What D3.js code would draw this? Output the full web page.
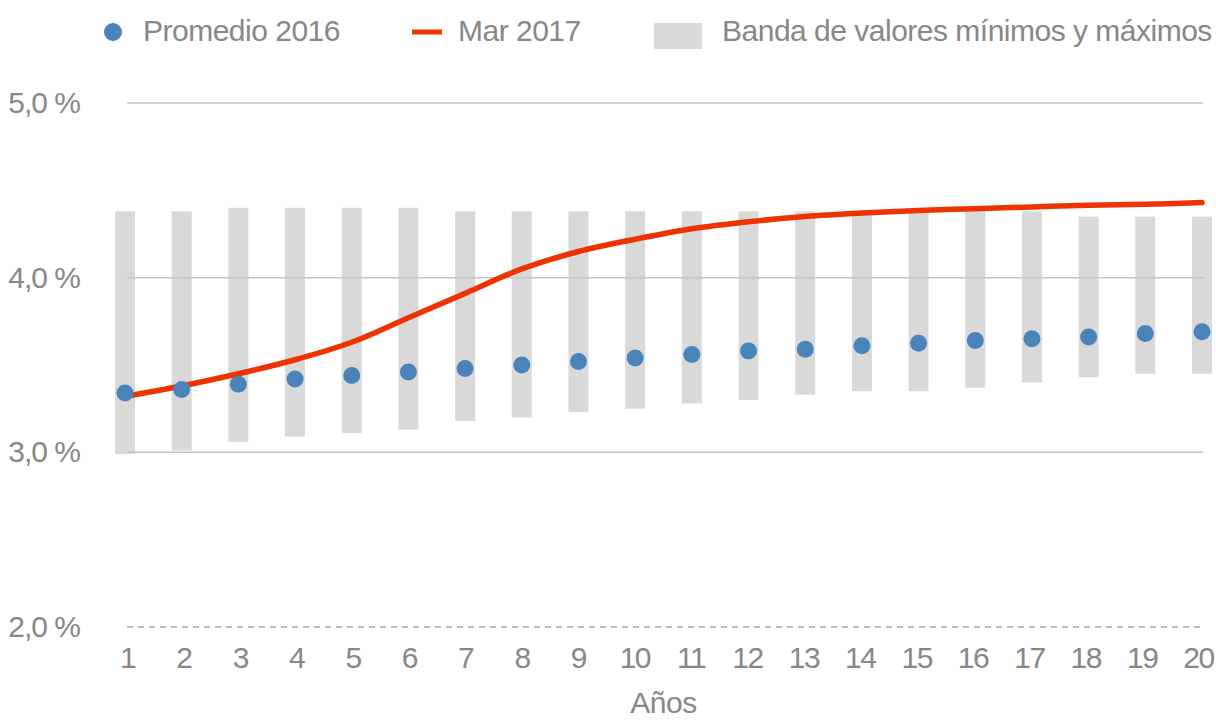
<!DOCTYPE html>
<html>
<head>
<meta charset="utf-8">
<script src="https://cdn.jsdelivr.net/npm/d3@7"></script>
<style>
  body { margin: 0; background: #fff; }
  svg text { font-family: "Liberation Sans", Arial, sans-serif; font-size: 30px; fill: #878787; letter-spacing: -0.5px; }
  .y-axis text { letter-spacing: -1px; }
  .x-axis text { letter-spacing: -1.5px; }
</style>
</head>
<body>
<div id="chart"></div>
<script>
// Data
const years = [1, 2, 3, 4, 5, 6, 7, 8, 9, 10, 11, 12, 13, 14, 15, 16, 17, 18, 19, 20];
const bandMax = [4.38, 4.38, 4.40, 4.40, 4.40, 4.40, 4.38, 4.38, 4.38, 4.38, 4.38, 4.38, 4.38, 4.37, 4.38, 4.38, 4.38, 4.35, 4.35, 4.35];
const bandMin = [2.99, 3.01, 3.06, 3.09, 3.11, 3.13, 3.18, 3.20, 3.23, 3.25, 3.28, 3.30, 3.33, 3.35, 3.35, 3.37, 3.40, 3.43, 3.45, 3.45];
const promedio2016 = [3.34, 3.36, 3.39, 3.42, 3.44, 3.46, 3.48, 3.50, 3.52, 3.54, 3.56, 3.58, 3.59, 3.61, 3.625, 3.64, 3.65, 3.66, 3.68, 3.69];
const mar2017 = [3.32, 3.38, 3.45, 3.53, 3.63, 3.77, 3.91, 4.05, 4.15, 4.22, 4.28, 4.32, 4.35, 4.37, 4.385, 4.395, 4.405, 4.415, 4.42, 4.43];
const yTicks = [2, 3, 4, 5];
const legendLabels = ["Promedio 2016", "Mar 2017", "Banda de valores mínimos y máximos"];

const width = 1216, height = 722;
const blue = "#4a82ba", red = "#ee3300", bandColor = "#d9d9d9";

const svg = d3.select("#chart").append("svg")
    .attr("width", width)
    .attr("height", height);

// Scales
const x = d3.scalePoint().domain(years).range([125, 1202]);
// category labels are spread a little tighter than the marks
const xLabel = d3.scalePoint().domain(years).range([127, 1198]);
const y = d3.scaleLinear().domain([2, 5]).range([627, 103]);
const gridX0 = 127, gridX1 = 1203;
const barWidth = 20;

const rows = years.map((yr, i) => ({
    year: yr, min: bandMin[i], max: bandMax[i], prom: promedio2016[i], mar: mar2017[i]
}));

// Min/max bands
svg.append("g")
    .selectAll("rect")
    .data(rows)
    .join("rect")
    .attr("x", d => x(d.year) - barWidth / 2)
    .attr("y", d => y(d.max))
    .attr("width", barWidth)
    .attr("height", d => y(d.min) - y(d.max))
    .attr("fill", bandColor);

// Gridlines (2,0 % is dashed)
svg.append("g")
    .selectAll("line")
    .data(yTicks)
    .join("line")
    .attr("x1", gridX0)
    .attr("x2", gridX1)
    .attr("y1", d => y(d))
    .attr("y2", d => y(d))
    .attr("stroke", d => d === 2 ? "#a6a6a6" : "#c4c4c4")
    .attr("stroke-width", 1.5)
    .attr("stroke-dasharray", d => d === 2 ? "6,5" : null);

// Mar 2017 line
const line = d3.line()
    .x(d => x(d.year))
    .y(d => y(d.mar))
    .curve(d3.curveCatmullRom);

svg.append("path")
    .datum(rows)
    .attr("d", line)
    .attr("fill", "none")
    .attr("stroke", red)
    .attr("stroke-width", 5.5)
    .attr("stroke-linecap", "round");

// Promedio 2016 dots
svg.append("g")
    .selectAll("circle")
    .data(rows)
    .join("circle")
    .attr("cx", d => x(d.year))
    .attr("cy", d => y(d.prom))
    .attr("r", 8.5)
    .attr("fill", blue);

// Axes
const fmt = v => d3.format(".1f")(v).replace(".", ",") + " %";

const yAxis = svg.append("g")
    .attr("class", "y-axis")
    .attr("transform", `translate(${gridX0},0)`)
    .call(d3.axisLeft(y).tickValues(yTicks).tickFormat(fmt).tickSize(0).tickPadding(47));
yAxis.select(".domain").remove();
yAxis.selectAll("text").attr("fill", null);
yAxis.attr("font-family", null).attr("font-size", null);

const xAxis = svg.append("g")
    .attr("class", "x-axis")
    .attr("transform", `translate(0,${y(2)})`)
    .call(d3.axisBottom(xLabel).tickSize(0).tickPadding(20));
xAxis.select(".domain").remove();
xAxis.selectAll("text").attr("fill", null);
xAxis.attr("font-family", null).attr("font-size", null);

// Axis title
svg.append("text")
    .attr("x", (x(1) + x(20)) / 2)
    .attr("y", 713)
    .attr("text-anchor", "middle")
    .text("Años");

// Legend
const legend = svg.append("g");
legend.append("circle").attr("cx", 113).attr("cy", 32).attr("r", 9).attr("fill", blue);
legend.append("text").attr("x", 143).attr("y", 41).text(legendLabels[0]);
legend.append("line").attr("x1", 412).attr("x2", 442).attr("y1", 32).attr("y2", 32)
    .attr("stroke", red).attr("stroke-width", 5);
legend.append("text").attr("x", 458).attr("y", 41).text(legendLabels[1]);
legend.append("rect").attr("x", 654).attr("y", 23).attr("width", 48).attr("height", 26).attr("fill", bandColor);
legend.append("text").attr("x", 722).attr("y", 41).text(legendLabels[2]);
</script>
</body>
</html>
